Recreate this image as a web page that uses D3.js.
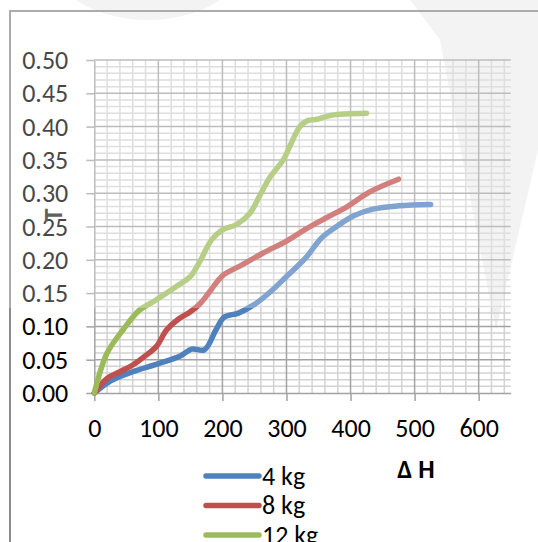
<!DOCTYPE html>
<html>
<head>
<meta charset="utf-8">
<script src="https://cdn.jsdelivr.net/npm/d3@7"></script>
<style>
  html, body { margin: 0; padding: 0; background: #fff; }
  svg { display: block; }
  text { font-family: Carlito, Calibri, "Open Sans", sans-serif; }
</style>
</head>
<body>
<svg id="chart" width="538" height="542"></svg>
<script>
// Series: ΔH (x) against strain (y) for each load
const load4kgX = [0, 25, 60, 100, 135, 152, 172, 190, 203, 225, 250, 275, 300, 330, 355, 380, 405, 435, 475, 525];
const load4kgY = [0, 0.018, 0.032, 0.044, 0.056, 0.066, 0.065, 0.095, 0.114, 0.12, 0.133, 0.152, 0.175, 0.203, 0.233, 0.251, 0.266, 0.276, 0.281, 0.283];

const load8kgX = [0, 20, 40, 60, 80, 97, 113, 130, 150, 165, 180, 200, 230, 265, 300, 330, 360, 395, 430, 475];
const load8kgY = [0, 0.022, 0.032, 0.042, 0.056, 0.07, 0.095, 0.11, 0.122, 0.134, 0.152, 0.176, 0.192, 0.211, 0.228, 0.246, 0.262, 0.28, 0.302, 0.321];

const load12kgX = [0, 20, 45, 70, 92, 128, 150, 165, 183, 200, 222, 243, 259, 275, 295, 305, 321, 333, 348, 370, 425];
const load12kgY = [0, 0.06, 0.095, 0.124, 0.137, 0.16, 0.175, 0.198, 0.23, 0.245, 0.253, 0.27, 0.298, 0.325, 0.35, 0.37, 0.40, 0.409, 0.411, 0.417, 0.42];

const seriesNames = ["4 kg", "8 kg", "12 kg"];
const seriesColors = ["#4F81BD", "#C0504D", "#9BBB59"];

const xTickValues = [0, 100, 200, 300, 400, 500, 600];
const yTickValues = [0, 0.05, 0.10, 0.15, 0.20, 0.25, 0.30, 0.35, 0.40, 0.45, 0.50];
const xAxisTitle = "Δ H";
const yAxisTitle = "T";

const series = seriesNames.map((name, i) => {
  const xs = [load4kgX, load8kgX, load12kgX][i];
  const ys = [load4kgY, load8kgY, load12kgY][i];
  return { name, color: seriesColors[i], points: xs.map((x, j) => [x, ys[j]]) };
});

const svg = d3.select("#chart");
const W = 538, H = 542;
const FONT = 26;

const x = d3.scaleLinear().domain([0, 650]).range([94.3, 510.7]);
const y = d3.scaleLinear().domain([0, 0.5]).range([393, 60]);

svg.append("rect").attr("width", W).attr("height", H).attr("fill", "#fff");

// faint background shapes
const bg = svg.append("g").attr("fill", "#efefef");
bg.append("ellipse").attr("cx", 148).attr("cy", -45).attr("rx", 100).attr("ry", 65);
bg.append("path").attr("d", "M410,0 L538,0 L538,150 L496,330 Q470,200 440,40 Z");

// outer frame
svg.append("path")
  .attr("d", "M10,542 L10,11 L538,11")
  .attr("fill", "none").attr("stroke", "#8c8c8c").attr("stroke-width", 2);

// minor gridlines
const grid = svg.append("g");
grid.selectAll("line.mx").data(d3.range(20, 650, 20).filter(v => v % 100 !== 0))
  .join("line").attr("class", "mx")
  .attr("x1", d => x(d)).attr("x2", d => x(d))
  .attr("y1", y(0)).attr("y2", y(0.5))
  .attr("stroke", "#d2d2d2").attr("stroke-width", 1.5);
grid.selectAll("line.my").data(d3.range(1, 50).filter(v => v % 5 !== 0).map(v => v / 100))
  .join("line").attr("class", "my")
  .attr("x1", x(0)).attr("x2", x(650))
  .attr("y1", d => y(d)).attr("y2", d => y(d))
  .attr("stroke", "#d2d2d2").attr("stroke-width", 1.5);

// major gridlines
grid.selectAll("line.Mx").data(xTickValues.slice(1))
  .join("line").attr("class", "Mx")
  .attr("x1", d => x(d)).attr("x2", d => x(d))
  .attr("y1", y(0)).attr("y2", y(0.5))
  .attr("stroke", "#a3a3a3").attr("stroke-width", 1.5);
grid.selectAll("line.My").data(yTickValues.slice(1))
  .join("line").attr("class", "My")
  .attr("x1", x(0)).attr("x2", x(650))
  .attr("y1", d => y(d)).attr("y2", d => y(d))
  .attr("stroke", "#a3a3a3").attr("stroke-width", 1.5);

// axes
const xAxis = svg.append("g").attr("transform", `translate(0,${y(0)})`)
  .call(d3.axisBottom(x).tickValues(xTickValues).tickSize(8).tickSizeOuter(0).tickFormat(d3.format("d")));
const yAxis = svg.append("g").attr("transform", `translate(${x(0)},0)`)
  .call(d3.axisLeft(y).tickValues(yTickValues).tickSize(8).tickSizeOuter(0).tickFormat(d3.format(".2f")));
[xAxis, yAxis].forEach(a => {
  a.select(".domain").attr("stroke", "#a3a3a3").attr("stroke-width", 1.5);
  a.selectAll(".tick line").attr("stroke", "#a3a3a3").attr("stroke-width", 1.5);
  a.selectAll(".tick text").attr("fill", "#000").attr("font-size", FONT)
    .style("font-family", "Carlito, Calibri, 'Open Sans', sans-serif");
});
xAxis.selectAll(".tick text").attr("y", 44).attr("dy", null);
yAxis.selectAll(".tick text").attr("x", -26).attr("dy", "0.33em");

// series lines
const line = d3.line().x(d => x(d[0])).y(d => y(d[1])).curve(d3.curveCatmullRom.alpha(0.5));
svg.append("g").selectAll("path").data(series).join("path")
  .attr("d", d => line(d.points))
  .attr("fill", "none")
  .attr("stroke", d => d.color)
  .attr("stroke-width", 5.5)
  .attr("stroke-linecap", "round")
  .attr("stroke-linejoin", "round");

// axis titles
svg.append("text").attr("transform", "translate(62,215) rotate(-90)")
  .attr("text-anchor", "middle").attr("font-weight", "bold").attr("font-size", FONT)
  .attr("fill", "#222").text(yAxisTitle);
svg.append("text").attr("x", 416).attr("y", 478)
  .attr("text-anchor", "middle").attr("font-weight", "bold").attr("font-size", FONT)
  .attr("fill", "#000").text(xAxisTitle);

// legend
const legend = svg.append("g").selectAll("g").data(series).join("g")
  .attr("transform", (d, i) => `translate(0,${476 + i * 29.5})`);
legend.append("line").attr("x1", 206).attr("x2", 259).attr("y1", 0).attr("y2", 0)
  .attr("stroke", d => d.color).attr("stroke-width", 5.5).attr("stroke-linecap", "round");
legend.append("text").attr("x", 262).attr("y", 8.5)
  .attr("font-size", FONT).attr("fill", "#000").text(d => d.name);

// light haze over the upper part
svg.append("rect").attr("x", 0).attr("y", 0).attr("width", W).attr("height", 308)
  .attr("fill", "#fff").attr("opacity", 0.28);
</script>
</body>
</html>
